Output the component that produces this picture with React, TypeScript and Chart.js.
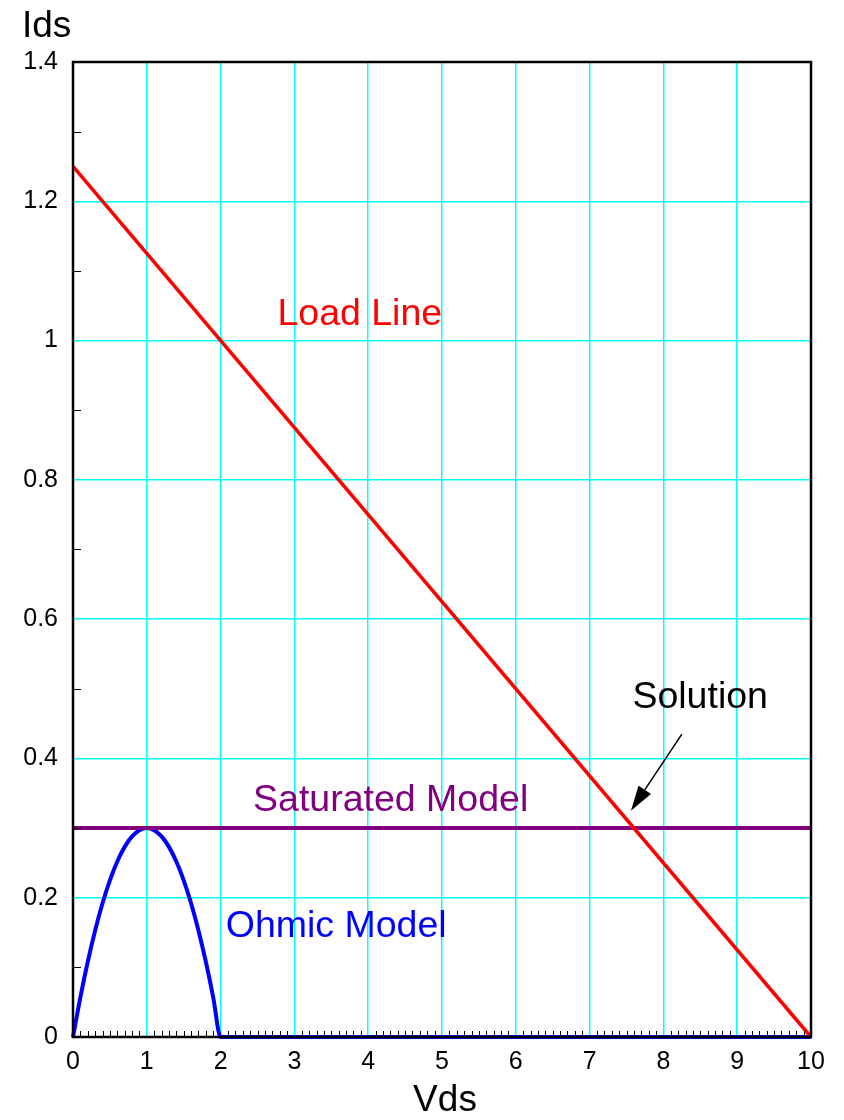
import React, { useEffect, useRef } from "react";
import { Chart, registerables } from "chart.js";

Chart.register(...registerables);

// Ohmic region curve (Vds, Ids), then flat at zero out to Vds = 10
const ohmicVds = [0, 0.1, 0.2, 0.3, 0.4, 0.5, 0.6, 0.7, 0.8, 0.9, 1.0, 1.1, 1.2, 1.3, 1.4, 1.5, 1.6, 1.7, 1.8, 1.9, 2.0, 10];
const ohmicIds = [0, 0.057, 0.108, 0.153, 0.192, 0.225, 0.252, 0.273, 0.288, 0.297, 0.3, 0.297, 0.288, 0.273, 0.252, 0.225, 0.192, 0.153, 0.108, 0.057, 0, 0];

// Load line end points
const loadVds = [0, 10];
const loadIds = [1.25, 0];

// Saturated model: constant current
const satVds = [0, 10];
const satIds = [0.3, 0.3];

// Axis ranges and tick steps
const xMin = 0, xMax = 10, xStep = 1, xMinorStep = 0.1;
const yMin = 0, yMax = 1.4, yStep = 0.2, yMinorStep = 0.1;

// Curve labels, anchored at (Vds, Ids) of their left baseline
const labels = [
  { text: "Load Line", x: 2.77, y: 1.023, color: "#ff0000" },
  { text: "Saturated Model", x: 2.44, y: 0.325, color: "#800080" },
  { text: "Ohmic Model", x: 2.07, y: 0.144, color: "#0000ff" },
  { text: "Solution", x: 7.58, y: 0.473, color: "#000000" },
];

// Arrow from the "Solution" label to the operating point
const arrowFrom = { x: 8.25, y: 0.435 };
const arrowTo = { x: 7.56, y: 0.325 };

const FONT = "'Liberation Sans', Arial, Helvetica, sans-serif";

const isMultiple = (v: number, step: number) => {
  const r = v / step;
  return Math.abs(r - Math.round(r)) < 1e-6;
};

const near = (a: number, b: number) => Math.abs(a - b) < 1e-6;

const toPoints = (xs: number[], ys: number[]) => xs.map((x, i) => ({ x, y: ys[i] }));

const decorPlugin = {
  id: "decor",
  afterDatasetsDraw(chart: any) {
    const { ctx, chartArea, scales } = chart;
    const xs = scales.x, ys = scales.y;
    ctx.save();

    // inward minor ticks on bottom and left axes
    ctx.strokeStyle = "#000";
    ctx.lineWidth = 1;
    ctx.beginPath();
    const nx = Math.round((xMax - xMin) / xMinorStep);
    for (let i = 1; i < nx; i++) {
      const v = xMin + i * xMinorStep;
      if (isMultiple(v, xStep)) continue;
      const px = Math.round(xs.getPixelForValue(v)) + 0.5;
      ctx.moveTo(px, chartArea.bottom);
      ctx.lineTo(px, chartArea.bottom - 6);
    }
    const ny = Math.round((yMax - yMin) / yMinorStep);
    for (let i = 1; i < ny; i++) {
      const v = yMin + i * yMinorStep;
      if (isMultiple(v, yStep)) continue;
      const py = Math.round(ys.getPixelForValue(v)) + 0.5;
      ctx.moveTo(chartArea.left, py);
      ctx.lineTo(chartArea.left + 8, py);
    }
    ctx.stroke();

    // frame
    ctx.lineWidth = 2.5;
    ctx.strokeStyle = "#000";
    ctx.strokeRect(chartArea.left, chartArea.top, chartArea.right - chartArea.left, chartArea.bottom - chartArea.top);

    // curve labels
    ctx.font = `37.5px ${FONT}`;
    ctx.textAlign = "left";
    ctx.textBaseline = "alphabetic";
    for (const l of labels) {
      ctx.fillStyle = l.color;
      ctx.fillText(l.text, xs.getPixelForValue(l.x), ys.getPixelForValue(l.y));
    }

    // arrow
    const x1 = xs.getPixelForValue(arrowFrom.x), y1 = ys.getPixelForValue(arrowFrom.y);
    const x2 = xs.getPixelForValue(arrowTo.x), y2 = ys.getPixelForValue(arrowTo.y);
    const ang = Math.atan2(y2 - y1, x2 - x1);
    const headLen = 25, headHalf = 7.5;
    const bx = x2 - headLen * Math.cos(ang), by = y2 - headLen * Math.sin(ang);
    ctx.strokeStyle = "#000";
    ctx.fillStyle = "#000";
    ctx.lineWidth = 1.5;
    ctx.beginPath();
    ctx.moveTo(x1, y1);
    ctx.lineTo(bx, by);
    ctx.stroke();
    ctx.beginPath();
    ctx.moveTo(x2, y2);
    ctx.lineTo(bx + headHalf * Math.sin(ang), by - headHalf * Math.cos(ang));
    ctx.lineTo(bx - headHalf * Math.sin(ang), by + headHalf * Math.cos(ang));
    ctx.closePath();
    ctx.fill();

    // axis titles
    ctx.fillStyle = "#000";
    ctx.font = `37px ${FONT}`;
    ctx.textAlign = "left";
    ctx.fillText("Ids", 22, 37);
    ctx.textAlign = "center";
    ctx.fillText("Vds", (chartArea.left + chartArea.right) / 2 + 3, 1111);

    ctx.restore();
  },
};

export default function App() {
  const canvasRef = useRef<HTMLCanvasElement>(null);

  useEffect(() => {
    const canvas = canvasRef.current;
    if (!canvas) return;
    const chart = new Chart(canvas, {
      type: "scatter",
      data: {
        datasets: [
          {
            label: "Ohmic Model",
            data: toPoints(ohmicVds, ohmicIds),
            showLine: true,
            borderColor: "#0000ff",
            borderWidth: 4,
            pointRadius: 0,
            cubicInterpolationMode: "monotone",
            clip: false,
            order: 3,
          },
          {
            label: "Saturated Model",
            data: toPoints(satVds, satIds),
            showLine: true,
            borderColor: "#800080",
            borderWidth: 4,
            pointRadius: 0,
            clip: false,
            order: 2,
          },
          {
            label: "Load Line",
            data: toPoints(loadVds, loadIds),
            showLine: true,
            borderColor: "#ff0000",
            borderWidth: 3.5,
            pointRadius: 0,
            clip: false,
            order: 1,
          },
        ],
      },
      options: {
        responsive: false,
        animation: false,
        layout: { padding: { top: 62, right: 33, left: 0, bottom: 0 } },
        plugins: {
          legend: { display: false },
          tooltip: { enabled: false },
        },
        scales: {
          x: {
            type: "linear",
            min: xMin,
            max: xMax,
            afterFit: (s: any) => { s.height = 83; },
            ticks: {
              stepSize: xStep,
              padding: 10,
              color: "#000",
              font: { family: FONT, size: 25 },
              maxRotation: 0,
              callback: (v: any) => String(Math.round(Number(v))),
            },
            grid: {
              drawTicks: false,
              color: (c: any) => (c.tick && (near(c.tick.value, xMin) || near(c.tick.value, xMax)) ? "rgba(0,0,0,0)" : "#00ffff"),
              lineWidth: 1.5,
            },
            border: { display: false },
          },
          y: {
            type: "linear",
            min: yMin,
            max: yMax,
            afterFit: (s: any) => { s.width = 73; },
            ticks: {
              stepSize: yStep,
              padding: 15,
              color: "#000",
              font: { family: FONT, size: 25 },
              callback: (v: any) => String(Number(Number(v).toFixed(1))),
            },
            grid: {
              drawTicks: false,
              color: (c: any) => (c.tick && (near(c.tick.value, yMin) || near(c.tick.value, yMax)) ? "rgba(0,0,0,0)" : "#00ffff"),
              lineWidth: 1.5,
            },
            border: { display: false },
          },
        },
      },
      plugins: [decorPlugin],
    } as any);
    return () => chart.destroy();
  }, []);

  return (
    <div style={{ position: "absolute", left: 0, top: 0, width: 844, height: 1120, background: "#fff" }}>
      <canvas ref={canvasRef} width={844} height={1120} style={{ display: "block", width: 844, height: 1120 }} />
    </div>
  );
}
